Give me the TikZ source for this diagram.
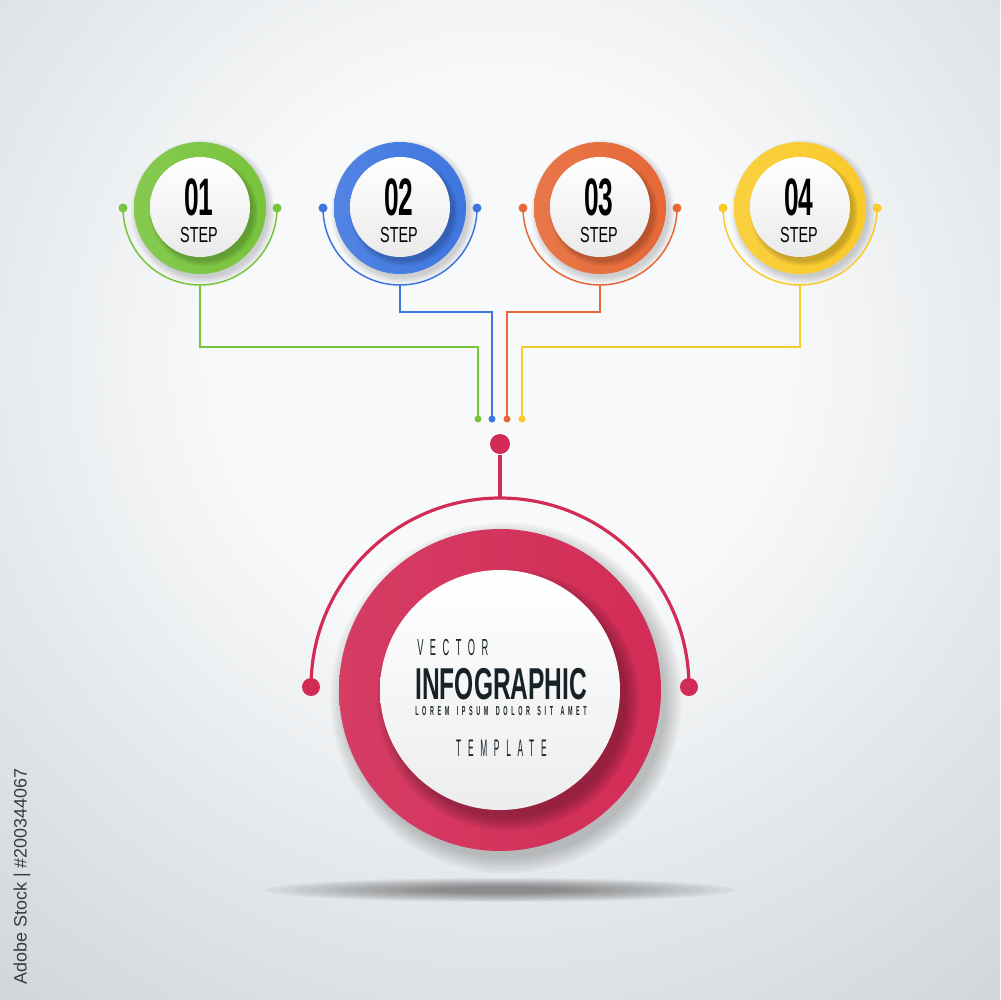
\documentclass[tikz,border=0pt]{standalone}
\usepackage{fontspec}
\setmainfont{Liberation Sans}
\usetikzlibrary{calc}

\definecolor{bglight}{RGB}{248,249,250}
\definecolor{bgdark}{RGB}{204,211,216}
\definecolor{stepgreen}{RGB}{120,196,60}
\definecolor{stepblue}{RGB}{62,118,224}
\definecolor{steporange}{RGB}{230,104,54}
\definecolor{stepyellow}{RGB}{250,202,42}
\definecolor{ringred}{RGB}{210,44,86}
\definecolor{inkdark}{RGB}{22,34,40}
\definecolor{stockgray}{RGB}{55,60,65}

\pgfdeclareradialshading{backdrop}{\pgfpoint{0bp}{0bp}}{color(0bp)=(bglight); color(8bp)=(bglight); color(25bp)=(bgdark); color(50bp)=(bgdark)}

\tikzset{
	ring/.style={circle, inner sep=0pt, minimum size=13.2mm},
	disc/.style={circle, inner sep=0pt, minimum size=10mm, top color=white, bottom color=black!8},
	stepnum/.style={font={\fontsize{15}{15}\selectfont\bfseries}, xscale=0.5, inner sep=0pt},
	steplbl/.style={font={\fontsize{6.2}{6.2}\selectfont}, xscale=0.66, inner sep=0pt},
	thinline/.style={line width=0.15mm},
	hubline/.style={line width=0.32mm, draw=ringred},
	spaced/.style={anchor=west, inner sep=0pt, text=inkdark},
}
\newcommand{\wordgap}{\hspace{5pt}}

\begin{document}
\begin{tikzpicture}[x=0.1mm, y=-0.1mm]
	%%%%% START %%%%%
	\useasboundingbox (0, 0) rectangle (1000, 1000);
	\begin{scope}
		\clip (0, 0) rectangle (1000, 1000);
		\shade[shading=backdrop] (500, 360) circle (860);
	\end{scope}
	
	% floor shadow
	\foreach \k in {0,...,11}
		\fill[black, opacity=0.04] (500, 890) ellipse ({235 - \k*15} and {12 - \k*0.8});
	
	% four steps
	\foreach \i/\col/\x/\yb/\xe in {1/stepgreen/200/347/478, 2/stepblue/400/312/492, 3/steporange/600/312/507, 4/stepyellow/800/347/522} {
		\foreach \k in {1,...,5}
			\fill[black, opacity=0.035] (\x + 3, 212) circle (64 + \k*1.6);
		\node[ring, left color=\col!90!white, right color=\col] (ring\i) at (\x, 208) {};
		\begin{scope}
			\clip (\x, 208) circle (66);
			\foreach \k in {1,...,4}
				\fill[black, opacity=0.05] (\x + 4, 212) circle (48 + \k*1.5);
		\end{scope}
		\node[disc] (disc\i) at (\x, 207) {};
		\node[stepnum] (num\i) at (\x - 1, 197) {0\i};
		\node[steplbl] (lbl\i) at (\x - 1, 235) {STEP};
		
		\coordinate (pinl\i) at (\x - 77, 208);
		\coordinate (pinr\i) at (\x + 77, 208);
		\coordinate (foot\i) at (\x, 285);
		\coordinate (tip\i) at (\xe, 419);
		\draw[thinline, \col] (pinl\i) arc (180:0:77);
		\fill[\col] (pinl\i) circle (4.5);
		\fill[\col] (pinr\i) circle (4.5);
		\draw[thinline, \col] (foot\i) -- (\x, \yb) -| (tip\i);
		\fill[\col] (tip\i) circle (3.5);
	}
	
	% hub and its arc
	\node[circle, fill=ringred, inner sep=0pt, minimum size=2mm] (hub) at (500, 444) {};
	\coordinate (arctop) at (500, 498);
	\coordinate (arcl) at (311, 687);
	\coordinate (arcr) at (689, 687);
	\draw[hubline] (hub) -- (arctop);
	\draw[hubline] (arcl) arc (180:360:189);
	\fill[ringred] (arcl) circle (9);
	\fill[ringred] (arcr) circle (9);
	
	% main circle
	\foreach \k in {1,...,7}
		\fill[black, opacity=0.03] (506, 698) circle (158 + \k*2.5);
	\node[circle, inner sep=0pt, minimum size=32.2mm, left color=ringred!92!white, right color=ringred] (mainring) at (500, 690) {};
	\begin{scope}
		\clip (500, 690) circle (161);
		\foreach \k in {1,...,6}
			\fill[black, opacity=0.05] (508, 700) circle (116 + \k*2.5);
	\end{scope}
	\node[circle, inner sep=0pt, minimum size=24mm, top color=white, bottom color=black!7] (maindisc) at (500, 690) {};
	
	\node[spaced, font={\fontsize{6.6}{6.6}\selectfont\addfontfeature{LetterSpace=70}}, xscale=0.4] (vec) at (417, 648) {VECTOR};
	\node[spaced, font={\fontsize{12.7}{12.7}\selectfont\bfseries}, xscale=0.55] (title) at (415, 684) {INFOGRAPHIC};
	\node[spaced, font={\fontsize{3.7}{3.7}\selectfont\bfseries\addfontfeature{LetterSpace=66}}, xscale=0.42] (lorem) at (415, 711) {LOREM\wordgap IPSUM\wordgap DOLOR\wordgap SIT\wordgap AMET};
	\node[spaced, font={\fontsize{6.8}{6.8}\selectfont\addfontfeature{LetterSpace=80}}, xscale=0.35] (tmpl) at (456, 748) {TEMPLATE};
	
	\node[rotate=90, anchor=west, inner sep=0pt, text=stockgray, font={\fontsize{5.1}{5.1}\selectfont}] (stockid) at (22, 985) {Adobe Stock | \#200344067};
	%%%%% END %%%%%
\end{tikzpicture}
\end{document}
